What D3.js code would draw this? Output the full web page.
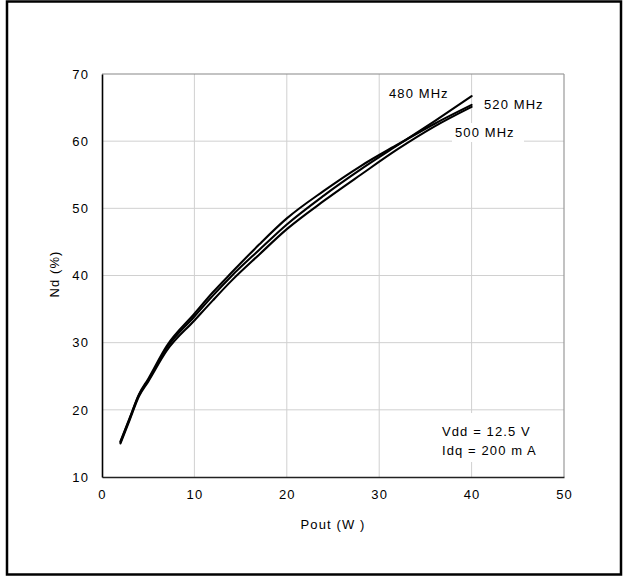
<!DOCTYPE html>
<html><head><meta charset="utf-8">
<script src="https://cdn.jsdelivr.net/npm/d3@7"></script>
<style>body{margin:0;background:#fff}svg{display:block}text{font-family:"Liberation Sans",Arial,sans-serif;font-size:13px;fill:#000;letter-spacing:1.1px}</style>
</head><body><svg id="c" width="624" height="576"></svg>
<script>
const pout = [2, 3, 4, 5, 7, 10, 12, 14, 17, 20, 24, 28, 32, 36, 40];
const nd480 = [15.2, 18.7, 22.2, 24.4, 29.2, 33.9, 37.0, 39.9, 43.8, 47.6, 51.9, 55.8, 59.4, 63.0, 66.7];
const nd500 = [15.0, 18.5, 22.0, 24.2, 28.8, 33.3, 36.3, 39.2, 43.1, 46.9, 51.1, 55.0, 58.8, 62.2, 65.1];
const nd520 = [15.3, 18.8, 22.3, 24.6, 29.5, 34.3, 37.5, 40.4, 44.6, 48.5, 52.6, 56.3, 59.5, 62.6, 65.4];
const xTicks = [0, 10, 20, 30, 40, 50];
const yTicks = [10, 20, 30, 40, 50, 60, 70];
const seriesNames = ["480 MHz", "500 MHz", "520 MHz"];

const svg = d3.select("#c");
svg.append("rect").attr("x", 7).attr("y", 1.5).attr("width", 614).attr("height", 573)
  .attr("fill", "none").attr("stroke", "#000").attr("stroke-width", 2.5);

const L = 102, R = 564, T = 74, B = 477;
const x = d3.scaleLinear().domain([0, 50]).range([L, R]);
const y = d3.scaleLinear().domain([10, 70]).range([B, T]);

const g = svg.append("g");
g.selectAll(".gx").data(xTicks.slice(1, -1)).join("line")
  .attr("x1", d => x(d)).attr("x2", d => x(d)).attr("y1", T).attr("y2", B)
  .attr("stroke", "#d0d0d0").attr("stroke-width", 1);
g.selectAll(".gy").data(yTicks.slice(1, -1)).join("line")
  .attr("x1", L).attr("x2", R).attr("y1", d => y(d)).attr("y2", d => y(d))
  .attr("stroke", "#d0d0d0").attr("stroke-width", 1);
g.append("line").attr("x1", L).attr("x2", R).attr("y1", T).attr("y2", T).attr("stroke", "#888").attr("stroke-width", 1.2);
g.append("line").attr("x1", R).attr("x2", R).attr("y1", T).attr("y2", B).attr("stroke", "#999").attr("stroke-width", 1.2);

g.append("rect").attr("x", 452).attr("y", 123).attr("width", 72).attr("height", 19).attr("fill", "#fff");
g.append("rect").attr("x", 436).attr("y", 413).attr("width", 106).attr("height", 49).attr("fill", "#fff");

const xAxis = d3.axisBottom(x).tickValues(xTicks).tickSize(0).tickPadding(13);
const yAxis = d3.axisLeft(y).tickValues(yTicks).tickSize(0).tickPadding(13);
const ax = svg.append("g").attr("transform", `translate(0,${B})`).call(xAxis);
const ay = svg.append("g").attr("transform", `translate(${L},0)`).call(yAxis);
ax.select(".domain").attr("stroke", "#222").attr("stroke-width", 1.6);
ay.select(".domain").attr("stroke", "#000").attr("stroke-width", 1.6);
svg.selectAll(".tick text").attr("font-family", "Liberation Sans, Arial, sans-serif").attr("font-size", 13).attr("fill", "#000");

const line = d3.line().x(d => x(d[0])).y(d => y(d[1])).curve(d3.curveMonotoneX);
[nd480, nd500, nd520].forEach(arr => {
  svg.append("path").datum(pout.map((p, i) => [p, arr[i]]))
    .attr("d", line).attr("fill", "none").attr("stroke", "#000").attr("stroke-width", 2.1)
    .attr("stroke-linecap", "round");
});

svg.append("text").attr("x", 389).attr("y", 98).text(seriesNames[0]);
svg.append("text").attr("x", 484).attr("y", 109).text(seriesNames[2]);
svg.append("text").attr("x", 455).attr("y", 137).text(seriesNames[1]);
svg.append("text").attr("x", 442).attr("y", 436).text("Vdd = 12.5 V");
svg.append("text").attr("x", 442).attr("y", 455).text("Idq = 200 m A");

svg.append("text").attr("x", 333).attr("y", 529).attr("text-anchor", "middle").text("Pout (W )");
svg.append("text").attr("transform", "translate(59,274) rotate(-90)").attr("text-anchor", "middle").text("Nd (%)");
</script></body></html>
